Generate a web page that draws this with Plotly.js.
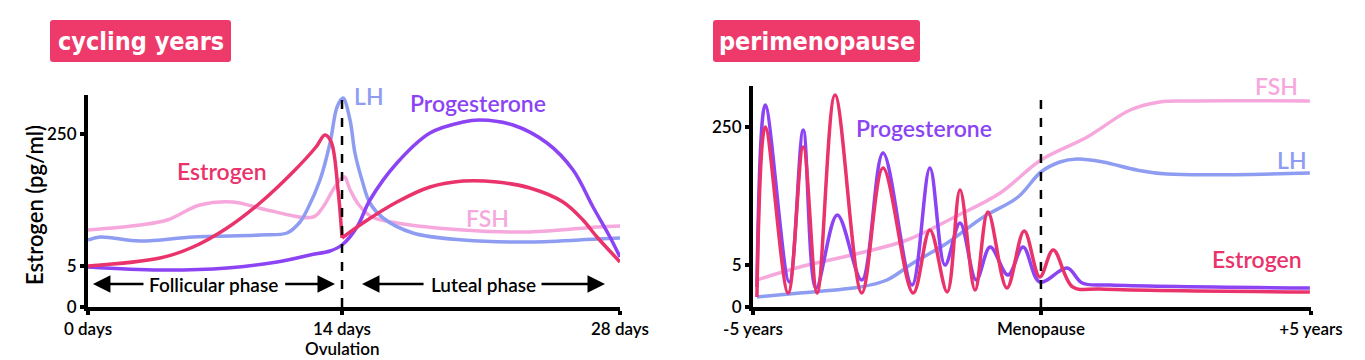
<!DOCTYPE html>
<html>
<head>
<meta charset="utf-8">
<script src="https://cdn.plot.ly/plotly-3.0.1.min.js"></script>
<style>html,body{margin:0;padding:0;background:#fff;}#chart{width:1365px;height:360px;}</style>
</head>
<body>
<div id="chart"></div>
<script>
// ---------- Cycling years (x: position along the cycle axis, in day units; y: position on the sketch scale) ----------
const cycleTickPos = [0, 13.37, 28];
const cycleTickText = ['0 days', '14 days', '28 days'];
const cycleSubLabel = 'Ovulation';
const cycleYTickPos = [0, 41, 173];
const cycleYTickText = ['0', '5', '250'];

const cycEstrogenX = [0, 3.79, 5.53, 7.32, 9.05, 10.79, 12.0, 12.47, 12.8, 13.16, 13.37, 14.47, 16.26, 18, 19.74, 21.53, 23.26, 25, 26.05, 26.79, 28];
const cycEstrogenY = [41, 49, 60, 79, 104, 135, 160, 172, 165, 117, 69, 84, 105, 120, 126, 125, 119, 105, 87, 70, 45];
const cycEstrogenSplit = 10; // index of the post-ovulation drop

const cycProgX = [0, 3.79, 7.32, 9.95, 11.68, 12.74, 13.37, 14.16, 14.84, 16.26, 18, 19.74, 20.63, 22.37, 24.16, 25.53, 26.58, 27.47, 28];
const cycProgY = [40, 37, 39, 45, 52, 56, 62, 80, 107, 144, 174, 185, 187, 182, 164, 137, 100, 70, 50];

const cycLHX = [0, 0.63, 2.74, 5.53, 9.05, 10.47, 11.16, 11.53, 12.21, 12.74, 13.11, 13.42, 13.79, 14.05, 14.42, 14.84, 15.53, 17.1, 19.74, 23.26, 26.79, 28];
const cycLHY = [67, 70, 66, 70, 72, 74, 85, 97, 127, 164, 200, 209, 187, 154, 127, 104, 89, 74, 67, 65, 68, 69];

const cycFSHX = [0, 2.74, 4.16, 5.89, 7.63, 9.42, 11.84, 12.37, 12.89, 13.3, 13.5, 13.8, 14.26, 14.95, 16.26, 19.74, 23.26, 26.79, 28];
const cycFSHY = [77, 82, 87, 102, 105, 97, 90, 100, 117, 128, 130, 117, 102, 90, 84, 77, 75, 80, 81];

// ---------- Perimenopause (x: position along the years axis; y: sketch scale) ----------
const periTickPos = [-5, 0.16, 5];
const periTickText = ['-5 years', 'Menopause', '+5 years'];
const periYTickPos = [0, 42, 180];
const periYTickText = ['0', '5', '250'];

const periEstrogenX = [-4.93, -4.78, -4.37, -4.10, -3.85, -3.53, -3.05, -2.67, -2.13, -1.83, -1.52, -1.29, -1.02, -0.79, -0.45, -0.14, 0.14, 0.38, 0.73, 1.22, 4.98];
const periEstrogenY = [10, 180, 14, 160, 14, 212, 14, 139, 14, 77, 15, 117, 17, 95, 19, 76, 30, 57, 20, 18, 15];

const periProgX = [-4.93, -4.78, -4.35, -4.10, -3.87, -3.49, -3.05, -2.67, -2.15, -1.83, -1.56, -1.29, -1.0, -0.75, -0.43, -0.16, 0.14, 0.63, 0.9, 1.4, 4.98];
const periProgY = [20, 202, 25, 177, 19, 92, 27, 154, 22, 139, 42, 84, 27, 60, 32, 60, 25, 39, 24, 22, 19];

const periLHX = [-4.93, -4.16, -3.08, -2.6, -2.13, -1.52, -0.87, -0.25, 0.16, 0.5, 0.81, 1.27, 1.88, 2.42, 4.98];
const periLHY = [10, 14, 20, 27, 44, 64, 90, 110, 135, 145, 148, 145, 137, 133, 134];

const periFSHX = [-4.93, -4.16, -3.08, -2.24, -1.42, -0.57, 0.16, 0.99, 1.76, 2.29, 2.78, 4.98];
const periFSHY = [27, 40, 54, 67, 89, 114, 147, 170, 197, 205, 206, 206];

// ---------- styles ----------
const C = {
  estrogen: '#e9336a',
  prog: '#8b43f4',
  lh: '#8e9cf2',
  fsh: '#f6a8dd',
  box: '#ee3a6b'
};
const LW = 3.5;
const FONT = 'Lato, "Open Sans", sans-serif';
const BOXFONT = '"DejaVu Sans Condensed", "Liberation Sans Narrow", sans-serif';

function line(x, y, color, xa, ya, name) {
  return {x: x, y: y, type: 'scatter', mode: 'lines', name: name, xaxis: xa, yaxis: ya,
    line: {color: color, width: LW, shape: 'spline', smoothing: 1}, hoverinfo: 'skip', showlegend: false};
}

const traces = [
  line(cycFSHX, cycFSHY, C.fsh, 'x', 'y', 'FSH'),
  line(cycLHX, cycLHY, C.lh, 'x', 'y', 'LH'),
  line(cycProgX, cycProgY, C.prog, 'x', 'y', 'Progesterone'),
  line(cycEstrogenX.slice(0, cycEstrogenSplit + 1), cycEstrogenY.slice(0, cycEstrogenSplit + 1), C.estrogen, 'x', 'y', 'Estrogen'),
  line(cycEstrogenX.slice(cycEstrogenSplit), cycEstrogenY.slice(cycEstrogenSplit), C.estrogen, 'x', 'y', 'Estrogen'),
  line(periFSHX, periFSHY, C.fsh, 'x2', 'y2', 'FSH'),
  line(periLHX, periLHY, C.lh, 'x2', 'y2', 'LH'),
  line(periProgX, periProgY, C.prog, 'x2', 'y2', 'Progesterone'),
  line(periEstrogenX, periEstrogenY, C.estrogen, 'x2', 'y2', 'Estrogen')
];

const W = 1365, H = 360;
const px = v => v / W;
const py = v => 1 - v / H;

function roundRect(x0, y0, x1, y1, r) {
  return 'M' + px(x0 + r) + ',' + py(y0) +
    ' L' + px(x1 - r) + ',' + py(y0) +
    ' Q' + px(x1) + ',' + py(y0) + ' ' + px(x1) + ',' + py(y0 + r) +
    ' L' + px(x1) + ',' + py(y1 - r) +
    ' Q' + px(x1) + ',' + py(y1) + ' ' + px(x1 - r) + ',' + py(y1) +
    ' L' + px(x0 + r) + ',' + py(y1) +
    ' Q' + px(x0) + ',' + py(y1) + ' ' + px(x0) + ',' + py(y1 - r) +
    ' L' + px(x0) + ',' + py(y0 + r) +
    ' Q' + px(x0) + ',' + py(y0) + ' ' + px(x0 + r) + ',' + py(y0) + ' Z';
}

const axisCommon = {
  showline: true, linecolor: '#000', linewidth: 4,
  ticks: 'outside', ticklen: 4, tickwidth: 4, tickcolor: '#000',
  showgrid: false, zeroline: false, fixedrange: true,
  tickfont: {family: FONT, size: 17, color: '#000', weight: 600}
};

function lbl(xref, yref, x, y, text, color, size) {
  return {xref: xref, yref: yref, x: x, y: y, text: text, showarrow: false, xanchor: 'center', yanchor: 'middle',
    font: {family: FONT, size: size || 23, color: color, weight: 600}};
}
function arrow(x, y, ax) {
  return {xref: 'x', yref: 'y', x: x, y: y, axref: 'x', ayref: 'y', ax: ax, ay: y, text: '', showarrow: true,
    arrowhead: 2, arrowsize: 1.4, arrowwidth: 2.5, arrowcolor: '#000'};
}

const layout = {
  width: W, height: H,
  margin: {l: 0, r: 0, t: 0, b: 0},
  paper_bgcolor: '#fff', plot_bgcolor: 'rgba(0,0,0,0)',
  showlegend: false,
  xaxis: Object.assign({}, axisCommon, {domain: [px(88), px(620)], range: [0, 28], anchor: 'y',
    tickmode: 'array', tickvals: cycleTickPos, ticktext: cycleTickText}),
  yaxis: Object.assign({}, axisCommon, {domain: [py(307), py(95)], range: [0, 212], anchor: 'x',
    tickmode: 'array', tickvals: cycleYTickPos, ticktext: cycleYTickText}),
  xaxis2: Object.assign({}, axisCommon, {domain: [px(753), px(1311)], range: [-5, 5], anchor: 'y2',
    tickmode: 'array', tickvals: periTickPos, ticktext: periTickText}),
  yaxis2: Object.assign({}, axisCommon, {domain: [py(307), py(86)], range: [0, 221], anchor: 'x2',
    tickmode: 'array', tickvals: periYTickPos, ticktext: periYTickText}),
  shapes: [
    {type: 'path', xref: 'paper', yref: 'paper', path: roundRect(50, 20, 231, 62, 3), fillcolor: C.box, line: {width: 0}, layer: 'below'},
    {type: 'path', xref: 'paper', yref: 'paper', path: roundRect(713, 20, 920, 62, 3), fillcolor: C.box, line: {width: 0}, layer: 'below'},
    {type: 'line', xref: 'x', yref: 'y', x0: cycleTickPos[1], x1: cycleTickPos[1], y0: 0, y1: 210,
      line: {color: '#000', width: 2.5, dash: 'dash'}},
    {type: 'line', xref: 'x2', yref: 'y2', x0: periTickPos[1], x1: periTickPos[1], y0: 0, y1: 214,
      line: {color: '#000', width: 2.5, dash: 'dash'}}
  ],
  annotations: [
    {xref: 'paper', yref: 'paper', x: px(140.5), y: py(41), xanchor: 'center', yanchor: 'middle', text: 'cycling years', showarrow: false,
      font: {family: BOXFONT, size: 25, color: '#fff', weight: 700}},
    {xref: 'paper', yref: 'paper', x: px(816.5), y: py(41), xanchor: 'center', yanchor: 'middle', text: 'perimenopause', showarrow: false,
      font: {family: BOXFONT, size: 25, color: '#fff', weight: 700}},
    {xref: 'paper', yref: 'paper', x: px(34), y: py(205), xanchor: 'center', yanchor: 'middle', text: 'Estrogen (pg/ml)', textangle: -90, showarrow: false,
      font: {family: FONT, size: 22, color: '#000', weight: 600}},
    {xref: 'x', yref: 'paper', x: cycleTickPos[1], y: py(348), xanchor: 'center', yanchor: 'middle', text: cycleSubLabel, showarrow: false,
      font: {family: FONT, size: 17, color: '#000', weight: 600}},
    // series labels - cycling
    lbl('x', 'y', 7.05, 136, 'Estrogen', C.estrogen),
    lbl('x', 'y', 14.79, 211, 'LH', C.lh),
    lbl('x', 'y', 20.53, 204, 'Progesterone', C.prog),
    lbl('x', 'y', 21.0, 89, 'FSH', C.fsh),
    // series labels - perimenopause
    lbl('x2', 'y2', -1.94, 179, 'Progesterone', C.prog),
    lbl('x2', 'y2', 4.39, 221, 'FSH', C.fsh),
    lbl('x2', 'y2', 4.66, 147, 'LH', C.lh),
    lbl('x2', 'y2', 4.03, 48, 'Estrogen', C.estrogen),
    // phase labels and arrows
    lbl('x', 'y', 6.58, 23, 'Follicular phase', '#000', 19),
    lbl('x', 'y', 20.79, 23, 'Luteal phase', '#000', 19),
    arrow(0.26, 23, 3.0),
    arrow(13.0, 23, 10.3),
    arrow(14.42, 23, 17.74),
    arrow(27.21, 23, 23.79)
  ]
};

Plotly.newPlot('chart', traces, layout, {staticPlot: true, displayModeBar: false});
</script>
</body>
</html>
